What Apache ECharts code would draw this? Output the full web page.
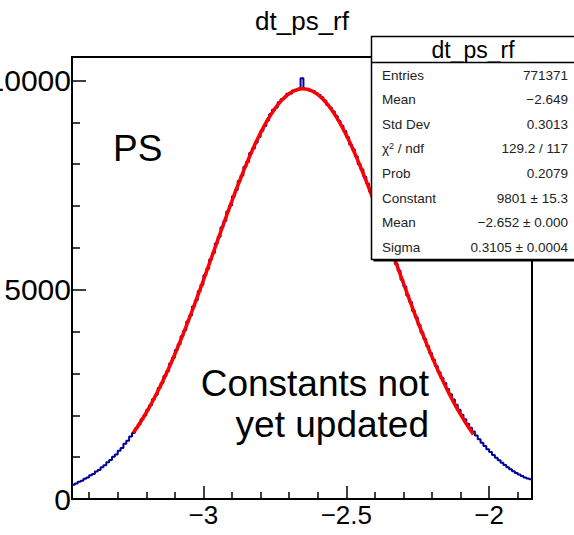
<!DOCTYPE html>
<html>
<head>
<meta charset="utf-8">
<script src="https://cdn.jsdelivr.net/npm/echarts@6/dist/echarts.min.js"></script>
<style>
html,body{margin:0;padding:0;background:#fff;}
#chart{width:574px;height:535px;}
</style>
</head>
<body>
<div id="chart"></div>
<script>
// ---- data ----
const chartTitle = 'dt_ps_rf';
const binStart = -3.46;
const binWidth = 0.01;
const histCounts = [
  340,372,410,436,482,512,566,598,655,690,
  760,805,878,930,1010,1066,1155,1220,1318,1390,
  1495,1575,1690,1778,1905,1995,2135,2238,2385,2490,
  2650,2770,2940,3060,3235,3372,3560,3695,3890,4030,
  4240,4385,4600,4750,4965,5120,5345,5500,5720,5880,
  6105,6265,6490,6640,6870,7015,7235,7380,7600,7730,
  7940,8060,8265,8375,8520,8650,8800,8910,9040,9190,
  9300,9355,9480,9550,9590,9680,9690,9760,9760,9810,
  10050,9790,9800,9750,9745,9700,9650,9600,9520,9415,
  9350,9260,9150,9030,8920,8790,8640,8470,8350,8190,
  8000,7875,7700,7530,7340,7130,6975,6760,6600,6380,
  6220,6000,5840,5615,5455,5240,5075,4860,4705,4495,
  4340,4160,3975,3820,3650,3490,3330,3180,3030,2890,
  2770,2630,2500,2375,2250,2130,2015,1905,1800,1700,
  1610,1520,1430,1345,1265,1190,1120,1050,985,925,
  865,810,760,710,665,620,585,550,515,490,
  470
];
const fitStart = -3.245;
const fitStep = 0.01;
const fitValues = [
  1582,1682,1786,1894,2007,2124,2246,2372,2504,2639,
  2779,2923,3072,3224,3381,3542,3707,3875,4047,4222,
  4400,4580,4763,4949,5136,5325,5515,5705,5897,6088,
  6280,6469,6659,6847,7032,7216,7396,7573,7746,7915,
  8079,8238,8392,8539,8681,8814,8942,9061,9173,9277,
  9371,9457,9534,9601,9659,9707,9746,9774,9792,9801,
  9799,9786,9764,9732,9689,9637,9576,9504,9424,9334,
  9236,9129,9015,8892,8762,8625,8481,8331,8175,8014,
  7848,7677,7503,7324,7143,6958,6772,6583,6394,6203,
  6012,5820,5629,5438,5249,5061,4874,4690,4508,4328,
  4151,3978,3807,3640,3477,3318,3163,3012,2865,2722,
  2584,2451,2321,2197,2077,1961,1850,1743,1641,1544
];
const xMin = -3.46, xMax = -1.85;
const yMin = 0, yMax = 10560;
const xMajorTicks = [-3, -2.5, -2];
const xMinorTicks = [-3.4,-3.3,-3.2,-3.1,-2.9,-2.8,-2.7,-2.6,-2.4,-2.3,-2.2,-2.1,-1.9];
const yMajorTicks = [0, 5000, 10000];
const yMinorTicks = [1000,2000,3000,4000,6000,7000,8000,9000];
const statsTitle = 'dt_ps_rf';
const statLabels = ['Entries','Mean','Std Dev','CHI2','Prob','Constant','Mean','Sigma'];
const statValues = ['771371','\u22122.649','0.3013','129.2 / 117','0.2079','9801 \u00b1 15.3','\u22122.652 \u00b1 0.000','0.3105 \u00b1 0.0004'];
const noteTopLeft = 'PS';
const noteLines = ['Constants not', 'yet updated'];

// ---- build series data ----
const histData = histCounts.map((v, i) => [binStart + i * binWidth, v]);
histData.push([binStart + histCounts.length * binWidth, histCounts[histCounts.length - 1]]);
const fitData = fitValues.map((v, i) => [fitStart + i * fitStep, v]);

const FONT = '"Liberation Sans", Arial, Helvetica, sans-serif';
const fmtNum = v => (v < 0 ? '\u2212' + String(-v) : String(v));

const chart = echarts.init(document.getElementById('chart'), null, {renderer: 'svg'});

const statsGraphics = [];
const boxX = 371.5, boxY = 36.5, boxW = 210, boxH = 223;
const SF = '13.5px ' + FONT;
statsGraphics.push({type:'rect', z:100, shape:{x:boxX+2, y:boxY+2, width:boxW, height:boxH}, style:{fill:'#000'}});
statsGraphics.push({type:'rect', z:101, shape:{x:boxX, y:boxY, width:boxW, height:boxH}, style:{fill:'#fff', stroke:'#000', lineWidth:1.5}});
statsGraphics.push({type:'line', z:102, shape:{x1:boxX, y1:62.5, x2:574, y2:62.5}, style:{stroke:'#000', lineWidth:1.5}});
statsGraphics.push({type:'text', z:103, x:473, y:49.5, style:{text:statsTitle, font:'23px ' + FONT, fill:'#000', align:'center', verticalAlign:'middle'}});
statLabels.forEach((lab, k) => {
  const yy = 75 + 24.6 * k;
  if (lab === 'CHI2') {
    statsGraphics.push({type:'text', z:103, x:382, y:yy, style:{
      text:'{a|\u03c7}{s|2}{a| / ndf}', verticalAlign:'middle', align:'left', fill:'#222',
      rich:{a:{font:SF, fill:'#222'}, s:{font:'9px ' + FONT, fill:'#222', verticalAlign:'top', padding:[0,0,6,0]}}
    }});
  } else {
    statsGraphics.push({type:'text', z:103, x:382, y:yy, style:{text:lab, font:SF, fill:'#222', align:'left', verticalAlign:'middle'}});
  }
  statsGraphics.push({type:'text', z:103, x:568, y:yy, style:{text:statValues[k], font:SF, fill:'#222', align:'right', verticalAlign:'middle'}});
});
statsGraphics.push({type:'text', z:50, x:113, y:148, style:{text:noteTopLeft, font:'37px ' + FONT, fill:'#000', align:'left', verticalAlign:'middle'}});
noteLines.forEach((t, k) => {
  statsGraphics.push({type:'text', z:50, x:429, y:383 + 41 * k, style:{text:t, font:'37px ' + FONT, fill:'#000', align:'right', verticalAlign:'middle'}});
});

const option = {
  animation: false,
  backgroundColor: '#fff',
  title: {
    text: chartTitle, left: 297, top: 3, textAlign: 'center',
    textStyle: {fontFamily: FONT, fontSize: 26, fontWeight: 'normal', color: '#000'}
  },
  grid: {left: 72, right: 42, top: 57, bottom: 36, outerBoundsMode: 'none', containLabel: false,
    show: true, borderColor: '#000', borderWidth: 2, backgroundColor: 'transparent'},
  xAxis: [
    {
      type: 'value', min: xMin, max: xMax,
      axisLine: {show: true, onZero: false, lineStyle: {color: '#000', width: 2}},
      axisTick: {show: true, inside: true, length: 13, customValues: xMajorTicks, lineStyle: {color: '#000', width: 1.5}},
      axisLabel: {show: true, customValues: xMajorTicks, formatter: fmtNum, margin: 3, color: '#000', fontFamily: FONT, fontSize: 26},
      splitLine: {show: false}
    },
    {
      type: 'value', min: xMin, max: xMax, position: 'bottom',
      axisLine: {show: false},
      axisTick: {show: true, inside: true, length: 7, customValues: xMinorTicks, lineStyle: {color: '#000', width: 1.5}},
      axisLabel: {show: false},
      splitLine: {show: false}
    }
  ],
  yAxis: [
    {
      type: 'value', min: yMin, max: yMax,
      axisLine: {show: true, onZero: false, lineStyle: {color: '#000', width: 2}},
      axisTick: {show: true, inside: true, length: 14, customValues: yMajorTicks, lineStyle: {color: '#000', width: 1.5}},
      axisLabel: {show: true, customValues: yMajorTicks, formatter: v => String(v), margin: 1, color: '#000', fontFamily: FONT, fontSize: 30},
      splitLine: {show: false}
    },
    {
      type: 'value', min: yMin, max: yMax, position: 'left',
      axisLine: {show: false},
      axisTick: {show: true, inside: true, length: 8, customValues: yMinorTicks, lineStyle: {color: '#000', width: 1.5}},
      axisLabel: {show: false},
      splitLine: {show: false}
    }
  ],
  series: [
    {
      type: 'line', name: 'hist', data: histData, step: 'end', showSymbol: false, symbol: 'none',
      lineStyle: {color: '#000099', width: 2}, z: 3, silent: true
    },
    {
      type: 'line', name: 'fit', data: fitData, smooth: false, showSymbol: false, symbol: 'none',
      lineStyle: {color: '#ff0000', width: 3.5}, z: 4, silent: true
    }
  ],
  graphic: statsGraphics
};
chart.setOption(option);
</script>
</body>
</html>
